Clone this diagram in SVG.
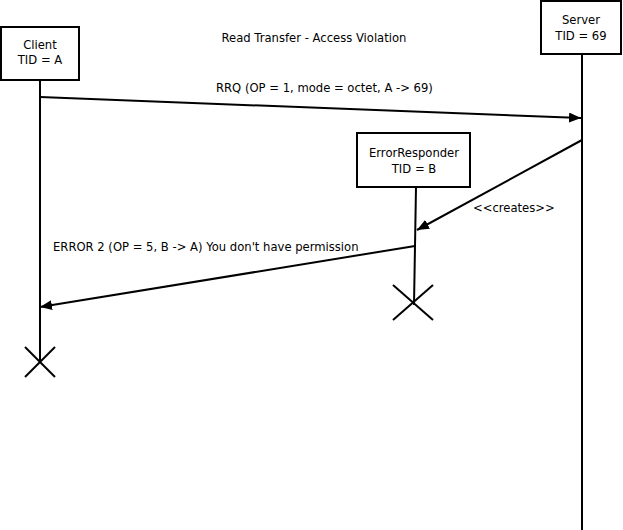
<svg xmlns="http://www.w3.org/2000/svg" width="623" height="530" viewBox="0 0 623 530">
<defs>
<style>
text{font-family:"DejaVu Sans",sans-serif;font-size:11.6px;fill:#000}
.box{fill:#fff;stroke:#000;stroke-width:2}
.ln{stroke:#000;stroke-width:2;fill:none}
.x{stroke:#000;stroke-width:2}
</style>
<marker id="ah" markerWidth="12" markerHeight="10" refX="12" refY="5" orient="auto" markerUnits="userSpaceOnUse">
<path d="M0,0 L12,5 L0,10 Z" fill="#000"/>
</marker>
</defs>
<rect width="623" height="530" fill="#fff"/>
<text x="314" y="42" text-anchor="middle">Read Transfer - Access Violation</text>
<g id="client">
<line class="ln" x1="40" y1="80" x2="40" y2="362"/>
<rect class="box" x="1" y="27" width="78" height="53"/>
<text x="40" y="49" text-anchor="middle">Client</text>
<text x="40" y="64" text-anchor="middle">TID = A</text>
<line class="x" x1="25" y1="347" x2="55" y2="377"/>
<line class="x" x1="55" y1="347" x2="25" y2="377"/>
</g>
<g id="server">
<line class="ln" x1="582" y1="54" x2="582" y2="530"/>
<rect class="box" x="541" y="1" width="80" height="53"/>
<text x="581" y="24" text-anchor="middle">Server</text>
<text x="581" y="40" text-anchor="middle">TID = 69</text>
</g>
<g id="errorresponder">
<line class="ln" x1="416" y1="187" x2="414" y2="305"/>
<rect class="box" x="357" y="133" width="113" height="54"/>
<text x="414" y="157" text-anchor="middle">ErrorResponder</text>
<text x="414" y="173" text-anchor="middle">TID = B</text>
<line class="x" x1="393" y1="285" x2="433" y2="320"/>
<line class="x" x1="433" y1="285" x2="393" y2="320"/>
</g>
<g id="connectors">
<line class="ln" x1="40" y1="97" x2="581" y2="118" marker-end="url(#ah)"/>
<text x="216" y="92">RRQ (OP = 1, mode = octet, A -&gt; 69)</text>
<line class="ln" x1="582" y1="140" x2="417" y2="230" marker-end="url(#ah)"/>
<text x="473" y="212">&lt;&lt;creates&gt;&gt;</text>
<line class="ln" x1="415" y1="246" x2="40" y2="307" marker-end="url(#ah)"/>
<text x="53" y="251">ERROR 2 (OP = 5, B -&gt; A) You don't have permission</text>
</g>
</svg>
